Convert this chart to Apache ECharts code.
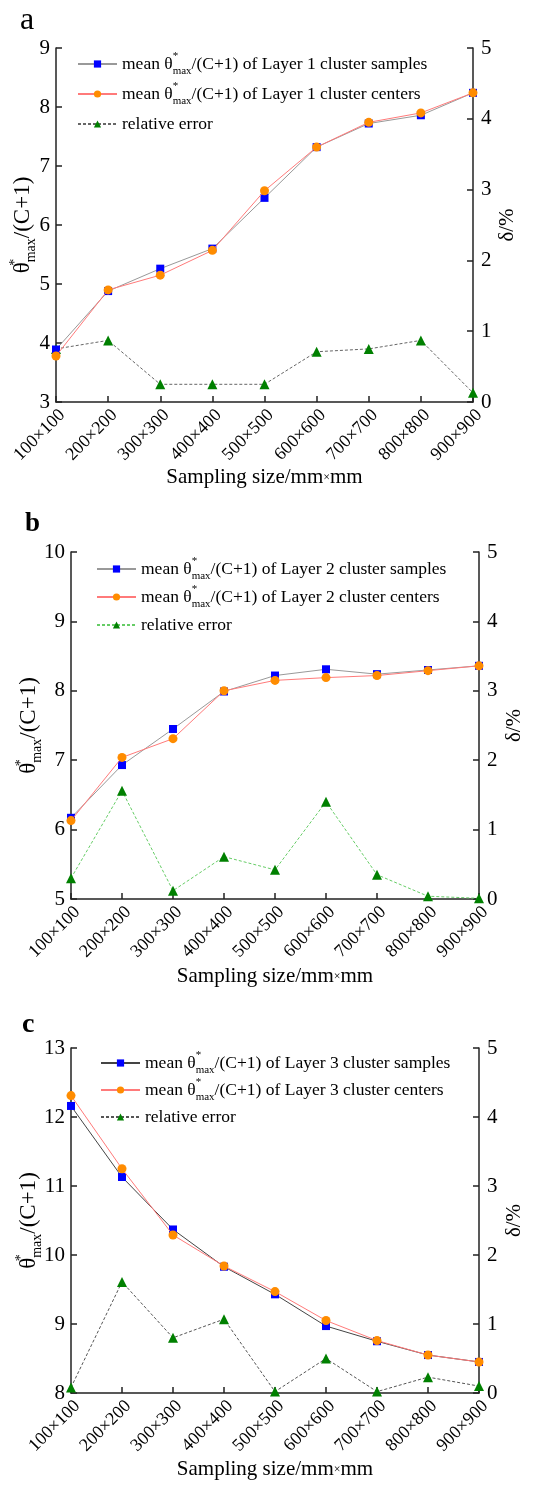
<!DOCTYPE html>
<html>
<head>
<meta charset="utf-8">
<script src="https://cdn.jsdelivr.net/npm/echarts@6/dist/echarts.min.js"></script>
<style>
  html, body { margin: 0; padding: 0; background: #fff; }
  #chart { width: 552px; height: 1485px; }
</style>
</head>
<body>
<div id="chart"></div>
<script>
// 横轴：采样尺寸
var categories = ['100×100', '200×200', '300×300', '400×400', '500×500', '600×600', '700×700', '800×800', '900×900'];

// Layer 1
var layer1Samples = [3.89, 4.88, 5.26, 5.60, 6.46, 7.32, 7.72, 7.86, 8.24];
var layer1Centers = [3.78, 4.90, 5.15, 5.57, 6.58, 7.32, 7.74, 7.90, 8.24];
var layer1Error   = [0.75, 0.87, 0.25, 0.25, 0.25, 0.71, 0.75, 0.87, 0.13];

// Layer 2
var layer2Samples = [6.17, 6.93, 7.45, 7.99, 8.22, 8.31, 8.24, 8.30, 8.36];
var layer2Centers = [6.13, 7.04, 7.31, 8.00, 8.15, 8.19, 8.22, 8.29, 8.36];
var layer2Error   = [0.30, 1.56, 0.12, 0.61, 0.42, 1.40, 0.35, 0.04, 0.01];

// Layer 3
var layer3Samples = [12.16, 11.13, 10.37, 9.83, 9.43, 8.97, 8.75, 8.55, 8.45];
var layer3Centers = [12.31, 11.25, 10.29, 9.84, 9.47, 9.05, 8.76, 8.55, 8.45];
var layer3Error   = [0.08, 1.61, 0.80, 1.07, 0.02, 0.50, 0.02, 0.23, 0.10];

// 左轴范围
var leftMin = [3, 5, 8];
var leftMax = [9, 10, 13];

var FONT = '"Liberation Serif", "DejaVu Serif", serif';

// 每个面板的位置和样式
var panels = [
    {
        letter: 'a', letterLeft: 20, letterTop: 5, letterSize: 32, letterWeight: 'normal',
        grid: { left: 56, top: 48, width: 417, height: 354 },
        legend: { left: 77, top: 51, gap: 4 },
        samples: layer1Samples, centers: layer1Centers, error: layer1Error,
        sampleLine: '#999999', errorLine: '#666666',
        yNameX: 23, rightNameGap: 24, xNameGap: 65
    },
    {
        letter: 'b', letterLeft: 25, letterTop: 511, letterSize: 27, letterWeight: 'bold',
        grid: { left: 71, top: 552, width: 408, height: 347 },
        legend: { left: 96, top: 556, gap: 2 },
        samples: layer2Samples, centers: layer2Centers, error: layer2Error,
        sampleLine: '#999999', errorLine: '#66cc66',
        yNameX: 29, rightNameGap: 25, xNameGap: 67
    },
    {
        letter: 'c', letterLeft: 22, letterTop: 1011, letterSize: 28, letterWeight: 'bold',
        grid: { left: 71, top: 1048, width: 408, height: 345 },
        legend: { left: 100, top: 1050, gap: 1 },
        samples: layer3Samples, centers: layer3Centers, error: layer3Error,
        sampleLine: '#444444', errorLine: '#555555',
        yNameX: 29, rightNameGap: 25, xNameGap: 66
    }
];

var nameRich = {
    sup: { fontFamily: FONT, fontSize: 14, lineHeight: 14, verticalAlign: 'top', width: 0, fill: '#000', color: '#000' },
    sub: { fontFamily: FONT, fontSize: 14, lineHeight: 14, verticalAlign: 'bottom', fill: '#000', color: '#000' },
    x: { fontFamily: FONT, fontSize: 12, color: '#000' }
};

function legendText(name) {
    var p = name.split('|');
    if (p[0] == 'err') return 'relative error';
    return 'mean θ{sup|*}{sub|max}/(C+1) of Layer ' + p[1] + ' cluster ' + p[0];
}

var opt = {
    backgroundColor: '#fff',
    animation: false,
    title: [], grid: [], xAxis: [], yAxis: [], legend: [], series: [], graphic: []
};

panels.forEach(function (pn, i) {
    var layer = i + 1;
    opt.title.push({
        text: pn.letter, left: pn.letterLeft, top: pn.letterTop, padding: 0,
        textStyle: { fontFamily: FONT, fontSize: pn.letterSize, fontWeight: pn.letterWeight, color: '#000', lineHeight: pn.letterSize }
    });
    opt.grid.push(Object.assign({ containLabel: false, outerBoundsMode: 'none' }, pn.grid));
    opt.xAxis.push({
        type: 'category', gridIndex: i, data: categories, boundaryGap: false,
        name: 'Sampling size/mm{x|×}mm', nameLocation: 'middle', nameGap: pn.xNameGap,
        nameMoveOverlap: false,
        nameTextStyle: { fontFamily: FONT, fontSize: 21, color: '#000', rich: nameRich },
        axisLine: { lineStyle: { color: '#222', width: 1.5 } },
        axisTick: { inside: true, length: 6, lineStyle: { color: '#222', width: 1.5 } },
        axisLabel: { rotate: 45, verticalAlign: 'top', fontFamily: FONT, fontSize: 18, color: '#000', margin: 4, interval: 0 },
        splitLine: { show: false }
    });
    var ylab = { fontFamily: FONT, fontSize: 21, color: '#000' };
    opt.yAxis.push({
        type: 'value', gridIndex: i, position: 'left',
        min: leftMin[i], max: leftMax[i], interval: 1,
        axisLine: { show: true, lineStyle: { color: '#222', width: 1.5 } },
        axisTick: { show: true, inside: true, length: 6, lineStyle: { color: '#222', width: 1.5 } },
        axisLabel: Object.assign({ margin: 6 }, ylab),
        splitLine: { show: false }
    });
    opt.yAxis.push({
        type: 'value', gridIndex: i, position: 'right',
        min: 0, max: 5, interval: 1,
        name: 'δ/%', nameLocation: 'middle', nameRotate: 90, nameGap: pn.rightNameGap,
        nameMoveOverlap: false,
        nameTextStyle: { fontFamily: FONT, fontSize: 21, color: '#000' },
        axisLine: { show: true, lineStyle: { color: '#222', width: 1.5 } },
        axisTick: { show: true, inside: true, length: 6, lineStyle: { color: '#222', width: 1.5 } },
        axisLabel: Object.assign({ margin: 8 }, ylab),
        splitLine: { show: false }
    });

    // 左轴标题（带上下标）
    opt.graphic.push({
        type: 'text', x: pn.yNameX, y: pn.grid.top + pn.grid.height / 2, rotation: Math.PI / 2,
        style: {
            text: 'θ{sup|*}{sub|max}/(C+1)', fontFamily: FONT, fontSize: 23, fill: '#000',
            lineHeight: 30, align: 'center', verticalAlign: 'middle', rich: nameRich
        }
    });

    var names = ['samples|' + layer, 'centers|' + layer, 'err|' + layer];
    opt.legend.push({
        data: names, orient: 'vertical', left: pn.legend.left, top: pn.legend.top,
        itemGap: pn.legend.gap, itemWidth: 39, itemHeight: 9, padding: 0,
        formatter: legendText, selectedMode: false,
        textStyle: { fontFamily: FONT, fontSize: 17.5, color: '#000', lineHeight: 26,
            rich: {
                sup: { fontFamily: FONT, fontSize: 11, lineHeight: 11, verticalAlign: 'top', width: 0, color: '#000' },
                sub: { fontFamily: FONT, fontSize: 11, lineHeight: 11, verticalAlign: 'bottom', color: '#000' }
            }
        }
    });

    opt.series.push({
        name: names[0], type: 'line', xAxisIndex: i, yAxisIndex: i * 2,
        data: pn.samples, symbol: 'rect', symbolSize: 8,
        lineStyle: { color: pn.sampleLine, width: 1 },
        itemStyle: { color: '#0000ff' }, z: 3
    });
    opt.series.push({
        name: names[1], type: 'line', xAxisIndex: i, yAxisIndex: i * 2,
        data: pn.centers, symbol: 'circle', symbolSize: 9,
        lineStyle: { color: '#ff7a7a', width: 1 },
        itemStyle: { color: '#ff8c00' }, z: 4
    });
    opt.series.push({
        name: names[2], type: 'line', xAxisIndex: i, yAxisIndex: i * 2 + 1,
        data: pn.error, symbol: 'triangle', symbolSize: 10,
        lineStyle: { color: pn.errorLine, width: 1, type: [3, 2] },
        itemStyle: { color: '#008000' }, z: 2
    });
});

var chart = echarts.init(document.getElementById('chart'), null, { renderer: 'canvas' });
chart.setOption(opt);
</script>
</body>
</html>
